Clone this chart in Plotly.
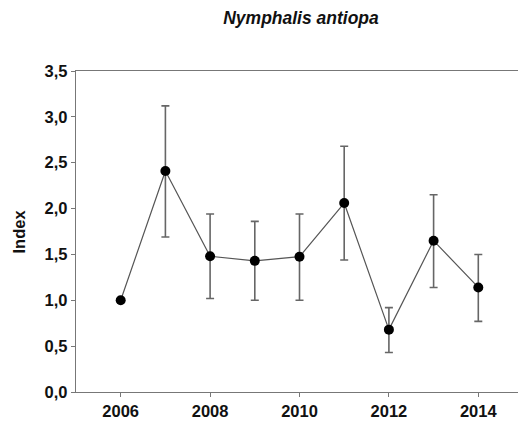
import plotly.graph_objects as go

# yearly index for Nymphalis antiopa
years = [2006, 2007, 2008, 2009, 2010, 2011, 2012, 2013, 2014]
index = [1.00, 2.41, 1.48, 1.43, 1.475, 2.06, 0.68, 1.65, 1.14]
upper = [1.00, 3.12, 1.94, 1.86, 1.94, 2.68, 0.92, 2.15, 1.50]
lower = [1.00, 1.69, 1.02, 1.00, 1.00, 1.44, 0.43, 1.14, 0.77]

x_ticks = [2006, 2008, 2010, 2012, 2014]
y_ticks = [0, 0.5, 1.0, 1.5, 2.0, 2.5, 3.0, 3.5]

err_plus = [u - v for u, v in zip(upper, index)]
err_minus = [v - l for v, l in zip(index, lower)]

fig = go.Figure()

# ---- line + error bars + points ----
fig.add_trace(go.Scatter(
    x=years,
    y=index,
    mode="lines+markers",
    line=dict(color="#555555", width=1.2),
    marker=dict(color="black", size=10),
    error_y=dict(
        type="data",
        symmetric=False,
        array=err_plus,
        arrayminus=err_minus,
        color="#666666",
        thickness=1.6,
        width=4,
    ),
    showlegend=False,
))

axis_font = dict(family="Arial, Liberation Sans", size=16.5, color="#111111")

# page body has an 8px margin, so the figure is drawn 8px in from the corner
W, H = 518, 419
L, R, T, B = 68, 3, 63, 35
plot_w = W - L - R

fig.update_layout(
    width=W,
    height=H,
    margin=dict(l=L, r=R, t=T, b=B),
    plot_bgcolor="white",
    paper_bgcolor="white",
    title=dict(
        text="<b><i>Nymphalis antiopa</i></b>",
        x=293 / W,
        xanchor="center",
        y=1 - 10 / H,
        yanchor="middle",
        font=dict(family="Arial, Liberation Sans", size=17.5, color="#111111"),
    ),
    xaxis=dict(
        range=[2005, 2015],
        tickvals=x_ticks,
        ticktext=[f"<b>{t}</b>" for t in x_ticks],
        tickfont=axis_font,
        ticks="outside",
        ticklen=4,
        tickcolor="#777777",
        showline=True,
        linecolor="#777777",
        linewidth=1.3,
        mirror=True,
        showgrid=False,
        zeroline=False,
        automargin=False,
    ),
    yaxis=dict(
        range=[0, 3.5],
        tickvals=y_ticks,
        ticktext=[f"<b>{t:.1f}</b>".replace(".", ",") for t in y_ticks],
        tickfont=axis_font,
        ticks="outside",
        ticklen=4,
        tickcolor="#777777",
        showline=True,
        linecolor="#777777",
        linewidth=1.3,
        mirror=True,
        showgrid=False,
        zeroline=False,
        automargin=False,
    ),
    annotations=[dict(
        text="<b>Index</b>",
        textangle=-90,
        xref="paper", yref="paper",
        x=(10 - L) / plot_w, y=0.5,
        xanchor="center", yanchor="middle",
        showarrow=False,
        font=axis_font,
    )],
)

fig.write_html("out.html")
